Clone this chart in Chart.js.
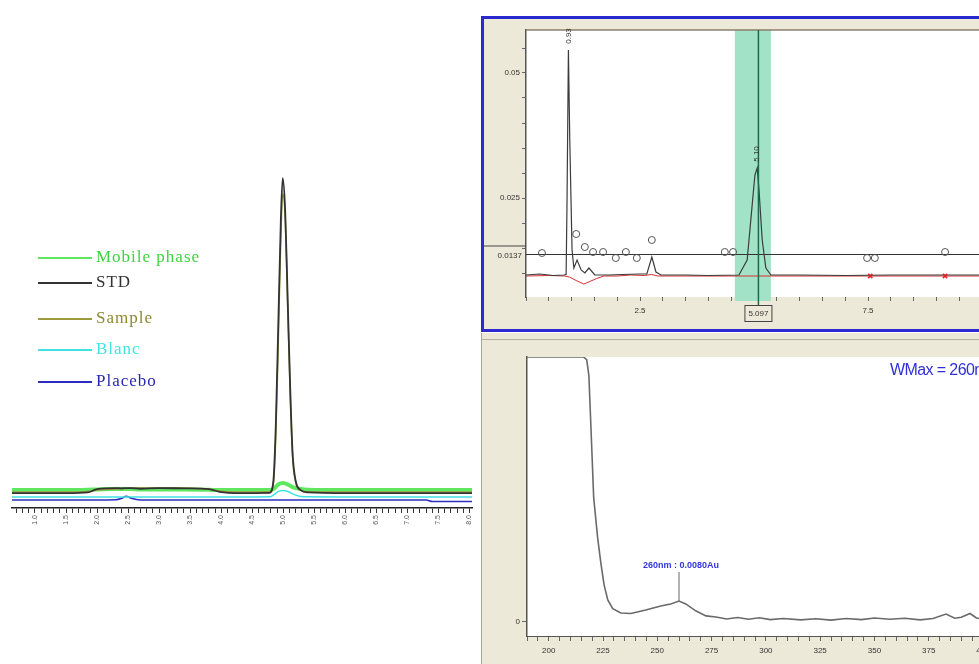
<!DOCTYPE html>
<html>
<head>
<meta charset="utf-8">
<script src="https://cdn.jsdelivr.net/npm/chart.js@4.4.1/dist/chart.umd.min.js"></script>
<style>
  html, body { margin: 0; padding: 0; width: 979px; height: 664px; overflow: hidden; background: #fff; }
  #leftChart { position: absolute; left: 0; top: 160px; }
  .lg { position: absolute; left: 38px; height: 20px; white-space: nowrap;
        font-family: "Liberation Serif", "DejaVu Serif", serif; font-size: 17px; letter-spacing: 1px; }
  .lg i { position: absolute; left: 0; top: 10px; width: 54px; height: 2px; }
  .lg span { position: absolute; left: 58px; top: 0; line-height: 20px; }
  #topPanel { position: absolute; left: 481px; top: 16px; width: 520px; height: 310px;
              border: 3px solid #2a2ad0; background: #ece9d8; }
  #topChart { position: absolute; left: 0; top: 0; }
  #botPanel { position: absolute; left: 481px; top: 333px; width: 520px; height: 340px;
              background: #ece9d8; border-left: 1px solid #a8a595; }
  #botLine { position: absolute; left: 482px; top: 339px; width: 520px; height: 1px; background: #b4b09e; }
  #botChart { position: absolute; left: 0; top: 0; }
  #wmax { position: absolute; left: 890px; top: 361px; color: #2f2fd8; white-space: nowrap;
          font-family: "Liberation Sans", Arial, sans-serif; font-size: 16px; letter-spacing: -0.6px; }
</style>
</head>
<body>
<canvas id="leftChart" width="480" height="380"></canvas>
<div id="legend"></div>

<div id="topPanel"><canvas id="topChart" width="520" height="310"></canvas></div>
<div id="botPanel"><canvas id="botChart" width="520" height="340"></canvas></div>
<div id="botLine"></div>
<div id="wmax">WMax = 260nm</div>

<script>
// ---- left overlay chromatogram (time in min, response in %) ----
const leftTime = [0.63, 1.5, 1.85, 2.0, 2.3, 2.4, 2.47, 2.55, 2.7, 3.0, 3.4, 3.8, 3.97, 4.3, 4.78, 4.84, 4.88, 4.92, 4.96, 4.99, 5.03, 5.07, 5.11, 5.15, 5.2, 5.28, 5.4, 6.0, 7.3, 7.4, 8.04];
const mobilePhase = [5.3, 5.3, 5.4, 5.5, 5.6, 5.6, 5.6, 5.6, 5.5, 5.5, 5.5, 5.4, 5.3, 5.3, 5.3, 5.6, 6.3, 7.0, 7.3, 7.4, 7.3, 7.0, 6.6, 6.2, 5.9, 5.6, 5.4, 5.3, 5.3, 5.3, 5.3];
const stdTrace = [4.4, 4.4, 4.6, 5.6, 5.9, 5.8, 5.9, 5.9, 5.7, 5.9, 5.8, 5.6, 4.8, 4.4, 4.5, 8, 25, 55, 85, 97.6, 88, 62, 36, 16, 8, 5.3, 4.6, 4.4, 4.4, 4.4, 4.4];
const sampleTrace = [4.7, 4.7, 4.9, 5.3, 5.6, 5.7, 5.8, 5.9, 5.9, 6.0, 5.9, 5.6, 5.0, 4.7, 4.8, 7, 22, 50, 80, 93, 86, 60, 34, 15, 7.5, 5.2, 4.8, 4.7, 4.7, 4.7, 4.7];
const blancTrace = [3.25, 3.25, 3.25, 3.25, 3.25, 3.25, 3.25, 3.25, 3.25, 3.25, 3.25, 3.25, 3.25, 3.25, 3.3, 3.8, 4.4, 4.9, 5.1, 5.2, 5.1, 4.9, 4.6, 4.2, 3.8, 3.4, 3.3, 3.25, 3.25, 3.25, 3.25];
const placeboTrace = [2.4, 2.4, 2.4, 2.4, 2.45, 2.9, 3.5, 2.9, 2.4, 2.4, 2.4, 2.4, 2.4, 2.4, 2.4, 2.4, 2.4, 2.4, 2.4, 2.4, 2.4, 2.4, 2.4, 2.4, 2.4, 2.4, 2.4, 2.4, 2.4, 1.9, 1.9];
const leftTickValues = [1.0, 1.5, 2.0, 2.5, 3.0, 3.5, 4.0, 4.5, 5.0, 5.5, 6.0, 6.5, 7.0, 7.5, 8.0];
const leftTickLabels = ['1.0', '1.5', '2.0', '2.5', '3.0', '3.5', '4.0', '4.5', '5.0', '5.5', '6.0', '6.5', '7.0', '7.5', '8.0'];
const legendNames = ['Mobile phase', 'STD', 'Sample', 'Blanc', 'Placebo'];

// ---- top right chromatogram (min, AU) ----
const blackT = [0, 0.3, 0.6, 0.83, 0.88, 0.9, 0.93, 0.96, 1.01, 1.05, 1.12, 1.21, 1.29, 1.38, 1.51, 1.82, 2.1, 2.48, 2.65, 2.76, 2.85, 2.96, 3.5, 4.0, 4.67, 4.85, 4.93, 5.02, 5.07, 5.11, 5.18, 5.26, 5.37, 6.0, 7.0, 8.0, 9.0, 10];
const blackV = [0.0096, 0.0098, 0.0095, 0.0096, 0.0097, 0.0246, 0.0546, 0.0366, 0.0146, 0.011, 0.0126, 0.0106, 0.0100, 0.011, 0.0096, 0.0096, 0.0097, 0.0098, 0.0098, 0.0132, 0.0102, 0.0096, 0.0096, 0.0095, 0.0096, 0.0126, 0.0206, 0.0296, 0.031, 0.0266, 0.0166, 0.011, 0.0096, 0.0096, 0.0095, 0.0096, 0.0096, 0.0096];
const redT = [0, 0.5, 0.85, 0.95, 1.1, 1.27, 1.4, 1.55, 1.71, 2.0, 2.3, 2.6, 2.75, 2.9, 3.5, 4.5, 10];
const redV = [0.0094, 0.0095, 0.0094, 0.0092, 0.0085, 0.0078, 0.0083, 0.0089, 0.0094, 0.0094, 0.0096, 0.0095, 0.0097, 0.0094, 0.0094, 0.0094, 0.0094];
const markT = [0.35, 1.10, 1.29, 1.47, 1.69, 1.97, 2.19, 2.43, 2.76, 4.36, 4.54, 7.48, 7.65, 9.19];
const markV = [0.0140, 0.0178, 0.0152, 0.0142, 0.0142, 0.0130, 0.0142, 0.0130, 0.0166, 0.0142, 0.0142, 0.0130, 0.0130, 0.0142];
const crossT = [7.55, 9.19];
const crossV = [0.0094, 0.0094];
const threshold = 0.0137;
const bandStart = 4.58, bandEnd = 5.37, selectedTime = 5.097;
const peakTimes = [0.93, 5.07];
const peakLabels = ['0.93', '5.10'];
const topXLabels = { 2.5: '2.5', 7.5: '7.5' };
const topYLabels = { 0.05: '0.05', 0.025: '0.025' };

// ---- bottom right UV spectrum (nm, AU) ----
const specNm = [190, 216, 217.5, 218.5, 220, 220.7, 222.5, 224, 225.5, 227.2, 229.5, 233.2, 237.8, 244.7, 251.6, 256.2, 260, 263.1, 267.7, 272.4, 277, 282, 287, 292, 297, 302, 308, 316, 323, 330, 337, 344, 350, 357, 364, 371, 377, 383, 387, 390, 394, 397, 400];
const specAbs = [0.1, 0.1, 0.099, 0.093, 0.062, 0.047, 0.032, 0.0223, 0.014, 0.0083, 0.0050, 0.0034, 0.0032, 0.0045, 0.006, 0.0068, 0.0079, 0.0068, 0.0042, 0.0023, 0.0019, 0.0011, 0.0017, 0.0010, 0.0016, 0.0009, 0.0013, 0.0008, 0.0012, 0.0007, 0.0013, 0.0009, 0.0015, 0.0010, 0.0014, 0.0008, 0.0013, 0.0030, 0.0014, 0.0018, 0.0032, 0.0015, 0.0010];
const specMarkNm = 260, specMarkAbs = 0.0079;
const specMarkLabel = '260nm : 0.0080Au';

Chart.defaults.font.family = '"Liberation Sans", Arial, sans-serif';
Chart.defaults.animation = false;

const pts = (xs, ys) => xs.map((x, i) => ({ x: x, y: ys[i] }));
const near = (a, b) => Math.abs(a - b) < 1e-6;

// left chart
const leftColors = ['#5fe85f', '#333333', '#9c9a3c', '#3fe3e3', '#2c2cc0'];
const leftWidths = [4, 1.8, 1.5, 1.5, 1.5];
const leftSeries = [mobilePhase, stdTrace, sampleTrace, blancTrace, placeboTrace];
const drawOrder = [1, 2, 0, 3, 4]; // STD on top
new Chart(document.getElementById('leftChart'), {
  type: 'line',
  data: {
    datasets: drawOrder.map(k => ({
      label: legendNames[k],
      data: pts(leftTime, leftSeries[k]),
      borderColor: leftColors[k],
      borderWidth: leftWidths[k],
      pointRadius: 0,
      cubicInterpolationMode: 'monotone'
    }))
  },
  options: {
    responsive: false,
    layout: { padding: { left: 12, right: 7, top: 10, bottom: 0 } },
    plugins: { legend: { display: false }, tooltip: { enabled: false } },
    scales: {
      x: {
        type: 'linear', min: 0.63, max: 8.04,
        afterFit: s => { s.height = 32; },
        border: { color: '#222', width: 1.5 },
        grid: { drawOnChartArea: false, tickLength: 5, color: '#333' },
        ticks: {
          stepSize: 0.1, includeBounds: false, autoSkip: false,
          maxRotation: 90, minRotation: 90, padding: 2,
          font: { size: 7 }, color: '#555',
          callback: v => {
            const i = leftTickValues.findIndex(t => near(t, v));
            return i >= 0 ? leftTickLabels[i] : '';
          }
        }
      },
      y: { display: false, min: 0, max: 100 }
    }
  }
});

const legendTops = [247, 272, 308, 339, 371];
const legendText = ['#3fd43f', '#333333', '#8c8a30', '#3fe3e3', '#2626b0'];
legendNames.forEach((name, k) => {
  const d = document.createElement('div');
  d.className = 'lg';
  d.style.top = legendTops[k] + 'px';
  d.innerHTML = '<i style="background:' + leftColors[k] + '"></i><span style="color:' + legendText[k] + '">' + name + '</span>';
  document.body.appendChild(d);
});

// white plot area
const plotBg = {
  id: 'plotBg',
  beforeDraw(chart) {
    const { ctx, chartArea: a } = chart;
    ctx.save();
    ctx.fillStyle = '#ffffff';
    ctx.fillRect(a.left, a.top, a.right - a.left, a.bottom - a.top);
    ctx.restore();
  }
};

const topMarks = {
  id: 'topMarks',
  beforeDatasetsDraw(chart) {
    const { ctx, chartArea: a, scales: { x } } = chart;
    const x0 = x.getPixelForValue(bandStart), x1 = x.getPixelForValue(bandEnd);
    ctx.save();
    ctx.fillStyle = '#a2e3c8';
    ctx.fillRect(x0, a.top, x1 - x0, a.bottom - a.top + 4);
    ctx.strokeStyle = '#8a7f6c';
    ctx.lineWidth = 1.5;
    ctx.beginPath(); ctx.moveTo(a.left, a.top); ctx.lineTo(a.right, a.top); ctx.stroke();
    ctx.restore();
  },
  afterDatasetsDraw(chart) {
    const { ctx, chartArea: a, scales: { x, y } } = chart;
    ctx.save();
    // selected time
    const xs = x.getPixelForValue(selectedTime);
    ctx.strokeStyle = '#1d6b4c';
    ctx.lineWidth = 1.5;
    ctx.beginPath(); ctx.moveTo(xs, a.top); ctx.lineTo(xs, a.bottom + 9); ctx.stroke();
    ctx.fillStyle = '#ece9d8';
    ctx.fillRect(xs - 13, a.bottom + 9, 26, 15);
    ctx.strokeStyle = '#444';
    ctx.lineWidth = 1;
    ctx.strokeRect(xs - 13.5, a.bottom + 8.5, 27, 16);
    ctx.fillStyle = '#333';
    ctx.font = '8px "Liberation Sans", Arial, sans-serif';
    ctx.textAlign = 'center';
    ctx.textBaseline = 'middle';
    ctx.fillText(selectedTime.toFixed(3), xs, a.bottom + 17);
    // threshold label on y axis
    const yt = y.getPixelForValue(threshold);
    ctx.textAlign = 'right';
    ctx.fillText(threshold.toFixed(4), a.left - 4, yt + 1);
    ctx.beginPath(); ctx.moveTo(0, yt - 8.5); ctx.lineTo(a.left, yt - 8.5); ctx.stroke();
    // peak labels (rotated)
    peakTimes.forEach((t, i) => {
      const px = x.getPixelForValue(t);
      const k = blackT.reduce((b, v, j) => Math.abs(v - t) < Math.abs(blackT[b] - t) ? j : b, 0);
      const py = y.getPixelForValue(blackV[k]);
      ctx.save();
      ctx.translate(px, py - 14);
      ctx.rotate(-Math.PI / 2);
      ctx.textAlign = 'center';
      ctx.fillText(peakLabels[i], 0, 0);
      ctx.restore();
    });
    ctx.restore();
  }
};

new Chart(document.getElementById('topChart'), {
  type: 'line',
  data: {
    datasets: [
      { data: pts(markT, markV), showLine: false, pointStyle: 'circle', pointRadius: 3.5,
        pointBorderColor: '#555', pointBackgroundColor: 'rgba(0,0,0,0)', pointBorderWidth: 1 },
      { data: pts(crossT, crossV), showLine: false, pointStyle: 'crossRot', pointRadius: 3,
        pointBorderColor: '#d22', pointBorderWidth: 1.5 },
      { data: pts(blackT, blackV), borderColor: '#3c3c3c', borderWidth: 1.2, pointRadius: 0 },
      { data: pts(redT, redV), borderColor: '#d83030', borderWidth: 1, pointRadius: 0 },
      { data: pts([0, 10], [threshold, threshold]), borderColor: '#333', borderWidth: 1.2, pointRadius: 0 }
    ]
  },
  options: {
    responsive: false,
    layout: { padding: { left: 0, right: 22, top: 11, bottom: 0 } },
    plugins: { legend: { display: false }, tooltip: { enabled: false } },
    scales: {
      x: {
        type: 'linear', min: 0, max: 10,
        afterFit: s => { s.height = 32; },
        border: { display: false },
        grid: { drawOnChartArea: false, tickLength: 4, color: '#666' },
        ticks: { stepSize: 0.5, autoSkip: false, maxRotation: 0, padding: 5, font: { size: 8 }, color: '#333',
          callback: v => { for (const k in topXLabels) if (near(+k, v)) return topXLabels[k]; return ''; } }
      },
      y: {
        type: 'linear', min: 0.0052, max: 0.0586,
        afterFit: s => { s.width = 42; },
        border: { color: '#555', width: 1.5 },
        grid: { drawOnChartArea: false, tickLength: 4, color: '#666' },
        ticks: { stepSize: 0.005, includeBounds: false, autoSkip: false, padding: 2, font: { size: 8 }, color: '#333',
          callback: v => { for (const k in topYLabels) if (near(+k, v)) return topYLabels[k]; return ''; } }
      }
    }
  },
  plugins: [plotBg, topMarks]
});

const specMarks = {
  id: 'specMarks',
  afterDatasetsDraw(chart) {
    const { ctx, scales: { x, y } } = chart;
    const px = x.getPixelForValue(specMarkNm);
    const py = y.getPixelForValue(specMarkAbs);
    ctx.save();
    ctx.strokeStyle = '#666';
    ctx.lineWidth = 1;
    ctx.beginPath(); ctx.moveTo(px, py); ctx.lineTo(px, py - 29); ctx.stroke();
    ctx.fillStyle = '#3434e0';
    ctx.font = 'bold 9px "Liberation Sans", Arial, sans-serif';
    ctx.textAlign = 'center';
    ctx.textBaseline = 'middle';
    ctx.fillText(specMarkLabel, px + 2, py - 36);
    ctx.restore();
  }
};

new Chart(document.getElementById('botChart'), {
  type: 'line',
  data: {
    datasets: [
      { data: pts(specNm, specAbs), borderColor: '#6a6a6a', borderWidth: 1.6, pointRadius: 0 }
    ]
  },
  options: {
    responsive: false,
    layout: { padding: { left: 0, right: 19, top: 24, bottom: 0 } },
    plugins: { legend: { display: false }, tooltip: { enabled: false } },
    scales: {
      x: {
        type: 'linear', min: 190, max: 400,
        afterFit: s => { s.height = 37; },
        border: { color: '#555', width: 1 },
        grid: { drawOnChartArea: false, tickLength: 5, color: '#666' },
        ticks: { stepSize: 5, autoSkip: false, maxRotation: 0, padding: 5, font: { size: 8 }, color: '#333',
          callback: v => (Math.round(v) % 25 === 0 ? String(Math.round(v)) : '') }
      },
      y: {
        type: 'linear', min: -0.0053, max: 0.1,
        afterFit: s => { s.width = 45; },
        afterBuildTicks: s => { s.ticks = [{ value: 0 }]; },
        border: { color: '#555', width: 1.5 },
        grid: { drawOnChartArea: false, tickLength: 5, color: '#666' },
        ticks: { padding: 2, font: { size: 8 }, color: '#333', callback: v => String(v) }
      }
    }
  },
  plugins: [plotBg, specMarks]
});
</script>
</body>
</html>
